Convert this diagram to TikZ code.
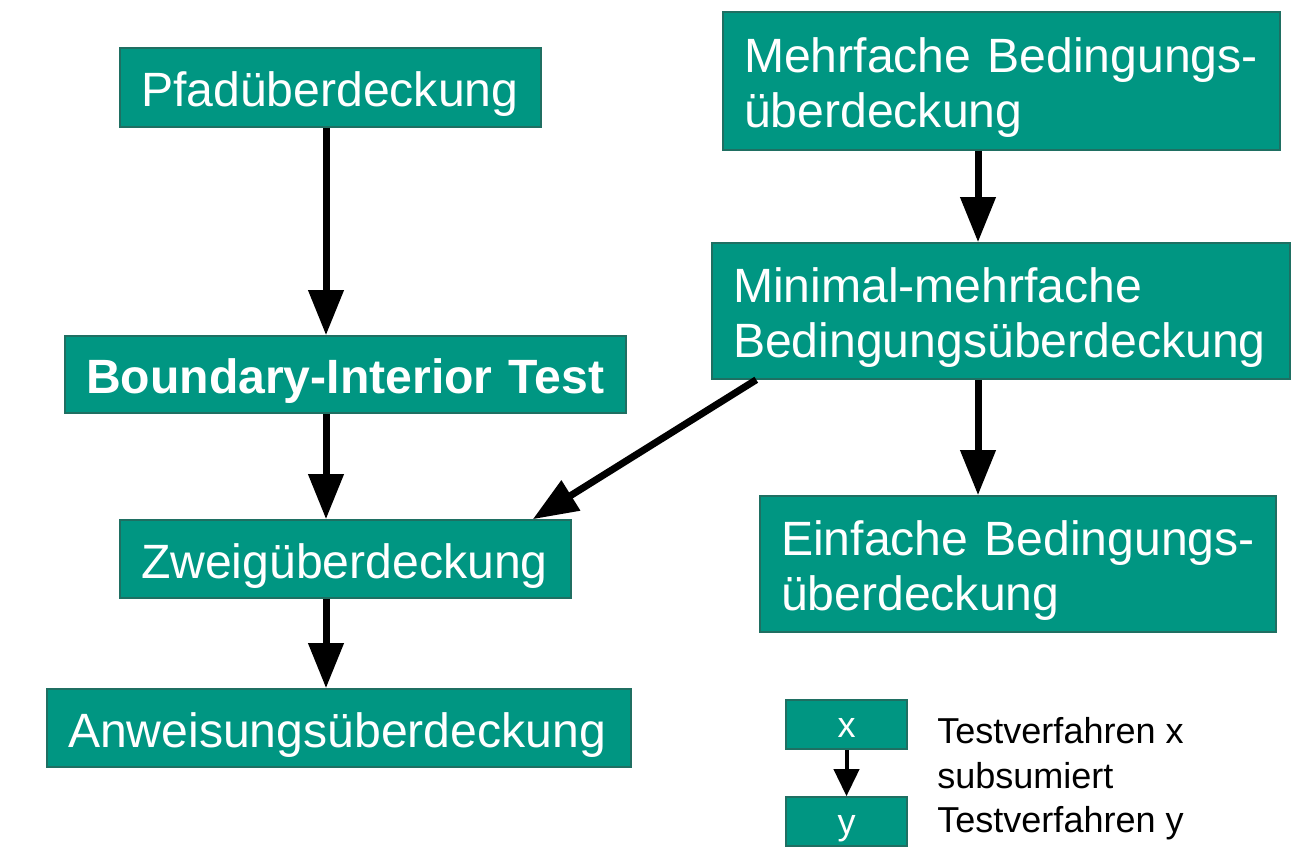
\documentclass[tikz,border=0pt]{standalone}
\usepackage{fontspec}
\setmainfont{Liberation Sans}
\usetikzlibrary{arrows.meta,positioning}

\definecolor{kit}{HTML}{009682}
\definecolor{kitdark}{HTML}{1F6F62}

\newcommand\boxstrut{\rule{0pt}{0.97cm}}

\tikzset{
  box/.style={draw=kitdark, line width=0.9pt, fill=kit, text=white,
    font=\fontsize{27.4}{31.5}\selectfont, align=left, inner xsep=0.42cm, inner ysep=0pt,
    execute at begin node=\boxstrut},
  small/.style={draw=kitdark, line width=0.9pt, fill=kit, text=white,
    font=\fontsize{20.5}{25}\selectfont, align=center, text height=0.5cm, text depth=0pt,
    minimum width=2.42cm, minimum height=0.98cm, inner sep=0pt},
  sub/.style={line width=0.14cm, -{Triangle[width=0.68cm,length=0.9cm]}},
  subsmall/.style={line width=0.08cm, -{Triangle[width=0.5cm,length=0.54cm]}}
}

\begin{document}
\begin{tikzpicture}[x=0.02cm, y=-0.02cm]
\useasboundingbox (0,0) rectangle (1310,854);

          % left column
          \node[box, text width=7.58cm, minimum height=1.58cm] (pfad) at (330.5,87.5) {Pfadüberdeckung};
          \node[box, text width=10.38cm, minimum height=1.54cm, font=\fontsize{27.4}{31.5}\selectfont\bfseries] (bit) at (345.5,374.5) {Boundary-Interior Test};
          \node[box, text width=8.18cm, minimum height=1.56cm] (zweig) at (345.5,559) {Zweigüberdeckung};
          \node[box, text width=10.84cm, minimum height=1.56cm] (anw) at (339,728) {Anweisungsüberdeckung};

          % right column
          \node[box, text width=10.30cm, minimum height=2.76cm] (mehr) at (1001.5,81) {Mehrfache Bedingungs-\\überdeckung};
          \node[box, text width=10.72cm, minimum height=2.72cm] (minimal) at (1001,311) {Minimal-mehrfache\\Bedingungsüberdeckung};
          \node[box, text width=9.48cm, minimum height=2.72cm] (einfach) at (1018,564) {Einfache Bedingungs-\\überdeckung};

          % legend
          \node[small] (lx) at (846.5,724.5) {x};
          \node[small] (ly) at (846.5,821.5) {y};
          \node[anchor=west, inner sep=0pt, align=left, font=\fontsize{20.5}{25.3}\selectfont] (legtext) at (937,779) {Testverfahren x\\subsumiert\\Testverfahren y};

          \coordinate (lcol) at (326,0);
          \coordinate (rcol) at (978,0);

          \draw[sub] (pfad.south -| lcol) -- (bit.north -| lcol);
          \draw[sub] (bit.south -| lcol) -- (zweig.north -| lcol);
          \draw[sub] (zweig.south -| lcol) -- (anw.north -| lcol);
          \draw[sub] (mehr.south -| rcol) -- (minimal.north -| rcol);
          \draw[sub] (minimal.south -| rcol) -- (einfach.north -| rcol);
          \draw[sub] ([xshift=0.9cm]minimal.south west) -- ([xshift=-0.78cm]zweig.north east);
          \draw[subsmall] (lx) -- (ly);
        \end{tikzpicture}
\end{document}
